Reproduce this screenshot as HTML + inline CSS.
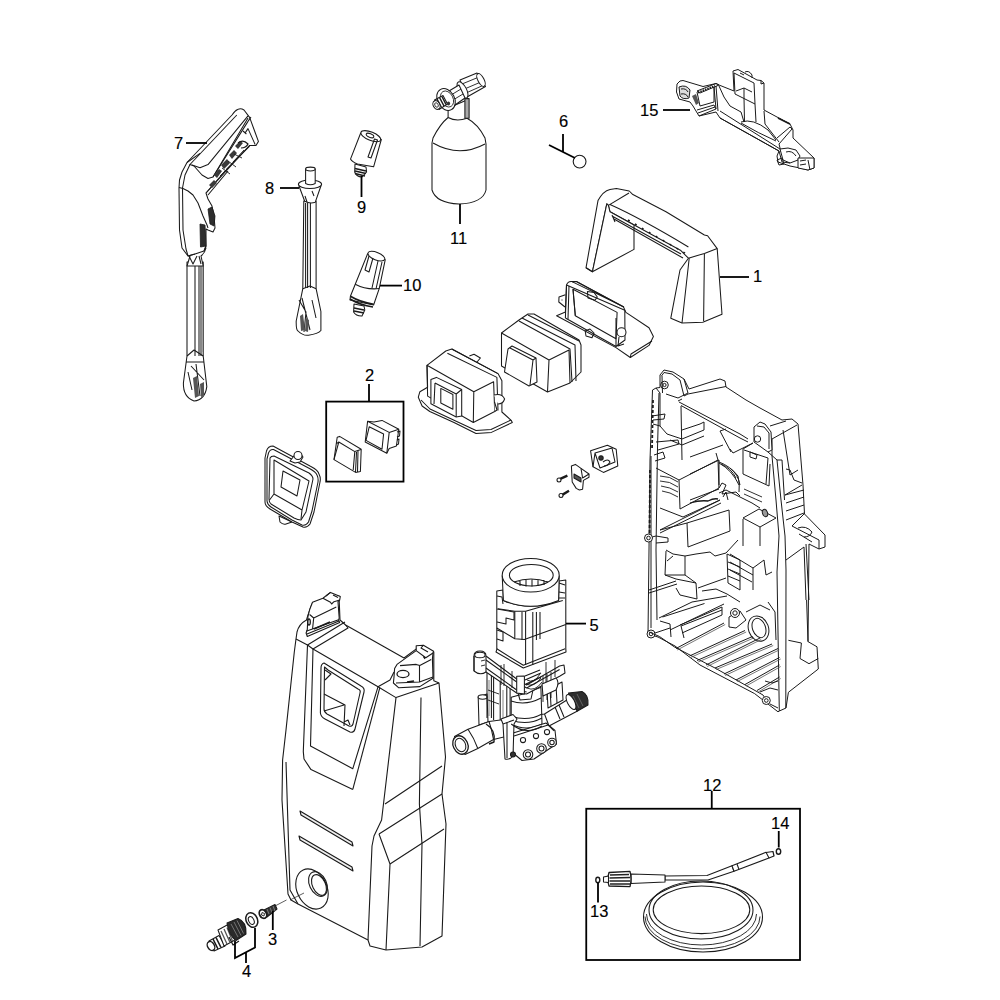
<!DOCTYPE html>
<html><head><meta charset="utf-8">
<style>
html,body{margin:0;padding:0;background:#fff;width:1000px;height:1000px;overflow:hidden}
svg{display:block}
text{font-family:"Liberation Sans",sans-serif;font-size:16.5px;fill:#000;stroke:#000;stroke-width:0.15}
</style></head><body>
<svg width="1000" height="1000" viewBox="0 0 1000 1000">

<g id="cover" stroke="#1a1a1a" stroke-width="1.1" fill="none" stroke-linejoin="round">
<path fill="#fff" d="M306.5 620 Q299 624 297 632 L296 639 L294.3 652 L286 730 L282.6 760 L282 800 L288 894 L291 900 L298 904 L368 940 L370 946 L386 950 L422 947 L442 936 L444 880 L446 824 L442 794 L445.5 757 L439 683 L433.8 680.8 L433.8 652 L419.4 646.6 L404 658 L345.6 625 L340 620 L339 596 L333 595 L312 604 L308 615 Z"/>
<!-- top face -->
<path d="M296 639 L307.5 645 L313 649 L378 686.8 L396 697.6 L439 683"/>
<path d="M307.5 645 L345 622 M313 649 L348 628 L345.6 625"/>
<path d="M378 686.8 L390 680 L394 672"/>
<!-- left face lines -->
<path d="M307.5 645 L303.3 751.6 L304 759 L311 769.6 L352.8 789.4"/>
<path d="M313 649 L310.5 746 L352.8 768.7 L378 686.8"/>
<path d="M352.8 789.4 L379.8 687.7"/>
<path d="M286 762 L290 890 L298 904"/>
<!-- window -->
<path d="M324 663 Q321 664 321 668 L320.4 713 Q321 717 325 719 L350 732 Q354 733 355 729 L364 692 Q365 688 361 686 Z"/>
<path d="M324.5 667 L324 709 Q324 712 327 714 L349 726 Q352 727 353 724 L360 693 Q361 690 358 689 L328 670 Z"/>
<path d="M324 694 L345 705 L344 726 M324 711 L344 705 M325 670 L331 674 L325 680 M344 722 L348 720 L350 725"/>
<!-- right block -->
<path d="M396 697.6 L381.6 820 L374 836 L372 846 L368 940"/>
<path d="M421 697.6 L419.4 804 L422 844 L420 946"/>
<path d="M385 804 L442 766 M379 834 L442 794 M390 864 L444 829"/>
<path d="M379 834 L390 864 L386 950"/>
<!-- slots -->
<path fill="#eee" d="M300 811 L352 842 L353 846 L301 815 Z"/>
<path fill="#eee" d="M299 836 L352 867 L353 871 L300 840 Z"/>
<!-- hole -->
<ellipse cx="312" cy="889" rx="15" ry="21" transform="rotate(-25 312 889)"/>
<ellipse cx="318" cy="884" rx="8.5" ry="13" transform="rotate(-25 318 884)"/>
<ellipse cx="319" cy="885" rx="6.5" ry="11" transform="rotate(-25 319 885)"/>
<path d="M290 900 L304 893" stroke-width="0.7"/>
<!-- left clip -->
<path fill="#fff" d="M306.1 633 L307.3 629.5 L307.9 616.8 L309.6 609.8 L312.5 602.3 L322.9 598.2 L330.5 592.4 L340.3 596.5 L339.7 600 L338 601.7 L339.2 618 L338.6 620.3 L339.7 622.6 L307.3 636.5 Z"/>
<path d="M322.9 598.2 L330.5 602.3 L331.6 604 L334 601.7 L339.7 600 M330.5 592.4 L326 596 M333 595 L338 597.5" />
<path d="M313.7 618 L336.3 607 M309.6 614.5 L313.7 618 L312.5 629.5 M306.1 631.3 L338.6 619.7 M307 634 L339 621"/>
<path d="M314 629 L330 622" stroke-width="1.6"/>
<ellipse cx="309" cy="622" rx="1.3" ry="3" stroke-width="1.3"/>
<!-- right clip -->
<path fill="#fff" d="M397 664.4 L416.2 650.6 L416.2 645.8 L423.4 645.2 L433.6 651.2 L433 653 L432.4 659 L433 677 L433 678.2 L419.8 686.6 L398.8 687.8 L393.4 683 L394 677 L394.6 668.6 Z"/>
<path d="M400 665.6 L416.2 664.4 L419.8 665.6 L431.2 659.6 M419.5 665.6 V682 M396 683 L419.5 682 L433 677"/>
<path d="M416.2 650.6 L425.8 657.8 L433 653 M423.4 656.6 L425 659 M423.4 645.2 L421 648 L428 652"/>
<ellipse cx="403" cy="674" rx="6" ry="3.6" stroke-width="1.3"/>
<path d="M407 682 L414 681" stroke-width="1.6"/>
</g>

<g id="motor" stroke="#1a1a1a" stroke-width="1.05" fill="none" stroke-linejoin="round">
<!-- rods & back parts -->
<path fill="#fff" d="M478.2 697 L487 694 L488 722 L479 725 Z"/>
<ellipse fill="#fff" cx="482.6" cy="697" rx="4.5" ry="2.2"/>
<path d="M487 673 V718 M491.4 673 V718 M493.6 675 V720 M500.2 678 V722 M506.8 686 V718 M510.1 686 V718"/>
<path d="M489 680 V716 M503 690 V720" stroke="#666" stroke-width="0.8"/>
<path fill="#fff" d="M547 690 L562 682 L563 700 L548 708 Z"/>
<path d="M550 688 L551 706 M556 685 L557 703"/>
<!-- pipe -->
<path fill="#fff" d="M454.5 736.5 L468 729.3 L489 721.5 L544.5 714 L568.5 699 L577.5 711 L549 726 L493.5 739.5 L477.8 748.5 L465 754.5 Z"/>
<path d="M468 729.3 Q474 738 477.8 748.5 M489 721.5 Q492 730 493.5 739.5 M544.5 714 L549 726 M555 707 L560 719 M559 705 L564 717"/>
<path d="M486 724 Q496 730 494 742 L489 744" stroke-width="1.4"/>
<ellipse fill="#fff" cx="460.5" cy="745" rx="7.3" ry="9.6" transform="rotate(-25 460.5 745)" stroke-width="1.3"/>
<ellipse cx="460.5" cy="745" rx="5" ry="7" transform="rotate(-25 460.5 745)"/>
<path fill="#2e2e2e" d="M568.5 693 L582 691.5 Q589 695 588 705 L577.5 711 Q570 704 568.5 693 Z"/>
<path d="M573 696 L579 708 M577 694 L583 706" stroke="#777" stroke-width="0.7"/>
<ellipse fill="#fff" cx="571" cy="702" rx="3.5" ry="8.3" transform="rotate(-28 571 702)"/>
<!-- pump cylinder -->
<path fill="#fff" d="M511.2 697.2 L511.2 724 Q526 732 542 724 L540.9 687.3 Q526 694 511.2 697.2 Z"/>
<path d="M511 701 Q526 706 541 698 M511.2 716 Q527 722 542 714 M511.2 720 Q527 726 542 718"/>
<path d="M518 693 L520 700 L531 699 L533 690"/>
<!-- flange plate -->
<path fill="#fff" d="M474 656 Q474 651 480 651 Q486 651 486 656 L516.7 679 L526.6 685 L559.6 666 L564 665 L565 673 L559.6 676.3 L526.6 694 L516.7 693 L486 672 Q480 676 474 671 Z"/>
<path d="M486 660 L516.7 682 L526.6 688 L559.6 669.5 M486 668 L516.7 690 L526.6 692"/>
<ellipse fill="#fff" cx="479.9" cy="655" rx="5.2" ry="2.8"/>
<path d="M474 656 V671 M486 656 V672"/>
<path fill="#fff" d="M516.7 676.3 L524.4 676 L524.4 693.9 L516.7 693 Z"/>
<path d="M501 665 V685 M504 664 V686 M512 671 V688 M546 662 V682 M555 660 V677" stroke-width="0.9"/>
<path d="M526 684 Q534 688 541 678 M527 688 Q535 692 542 682 M527 680 Q534 684 540 674" stroke-width="0.9"/>
<path d="M525 676 L540 670 M525 680 L541 673 M526 684 L541 677" stroke-width="1.3"/>
<path d="M543 676 V702 M547 674 V700 M551 672 V698" stroke-width="0.9"/>
<path fill="#fff" d="M542 684 L556 678 Q560 682 556 690 L543 696 Z"/>
<path d="M488 690 L499 694 M488 700 L499 704" stroke-width="0.9"/>
<path d="M481 661 L485 660 M481 666 L485 665" stroke-width="0.9"/>
<!-- valve block -->
<path fill="#fff" d="M511.5 733.5 L546 723 L555 730.5 L556.5 744 L534 759 L522 760.5 L513 753 Z"/>
<path d="M514 736 L548 725 L554 731"/>
<circle fill="#fff" cx="528" cy="754.5" r="4.8"/><circle cx="528" cy="754.5" r="2.5"/>
<circle fill="#fff" cx="541.5" cy="748.5" r="4.8"/><circle cx="541.5" cy="748.5" r="2.5"/>
<circle fill="#fff" cx="552" cy="742.5" r="4.3"/><circle cx="552" cy="742.5" r="2.2"/>
<circle cx="523" cy="740" r="2.6"/><circle cx="536" cy="736" r="2.6"/><circle cx="547" cy="732" r="2.6"/>
<path fill="#fff" d="M501 719 L513 714.5 L517 719 L514 724 L513 756 Q510 760 505 759 L503 724 Z"/>
<path d="M503 724 L514 720 M507 722 V758"/>
<circle fill="#333" cx="513" cy="754.5" r="2.5"/>
<path d="M511.2 724 Q526 736 542 726" />
<!-- motor body -->
<path fill="#fff" d="M496.8 591 L503 590 L503.4 600.4 Q530 612 558.6 600.4 L559 581 L565.8 580 L565.8 648.4 L566 652 L523.3 668 L496 652 L496.8 649.6 Z"/>
<path d="M496.8 648.8 L523.3 665.3 L565.1 648.8"/>
<path d="M496.8 628 L514.8 638.8 L524.4 639.4 L565.8 624.4"/>
<path d="M498 608.8 L514.8 611.2 L525.6 611.2 L562.8 600.4"/>
<path d="M514.8 611.2 V638.8 M522 612 V640 M525.6 611.2 V665 M532.8 612 V665 M536.4 612 V640 M540 612 V639"/>
<path d="M497 609 L514 612 L514 620 L506 618 L506 624 L497 622 M497 630 L503 632 L503 641 L497 639"/>
<path d="M559 583 L565 585 M559 592 L565 593 M559 598 L565 598"/>
<path d="M497 596 L502 597 L503 604"/>
<path fill="#fff" d="M502.2 575.8 L503.4 600.4 Q530 612 558.6 600.4 L559.2 575.8 Z"/>
<ellipse fill="#fff" cx="530.7" cy="575.2" rx="28.5" ry="16.8"/>
<ellipse cx="531.3" cy="575.2" rx="21.9" ry="10.8"/>
<path d="M514 582 Q531 576 548 582 M520 580 V586 M526 579 V586.5 M532 579 V586.5 M538 579.5 V586 M544 580 V585"/>
</g>

<g id="rear" stroke="#1a1a1a" stroke-width="1.0" fill="none" stroke-linejoin="round">
<path fill="#fff" d="M652.5 390 L656 388 L660 387.5 L660 375 L664 370 L673 372 L684 379 L689 389 L720 379 L725 381 L726 387 L746 400 L760 408 L782 420 L792 419 L798 424 L803 485 L804.5 514 L825 535 L825 547 L819 549 L809 544 L808 641.6 L817 646.8 L818.3 669 L788.4 692.3 L786 708 L779.3 711 L778 711.8 L754.6 693.6 L700 665 L675 646 L658 637 L648 634 L649 550 L650 460 Z"/>
<!-- left edge -->
<path d="M659 393 L657.5 448 L656 550 L657 620 M651 456 L651 628"/>
<path d="M653 400 L652 450 M650 470 L649.5 540" stroke-width="1.8" stroke-dasharray="3 2"/>
<!-- clip left -->
<path d="M661.5 376 L664 372.5 L672 374 L680 380 L684 396 M662 376 L662.5 393 M684 379 L688 393 L678 398 L666 394 M656 388 L660 393"/>
<circle cx="664.5" cy="385" r="3.8"/><circle cx="664.5" cy="385" r="1.6"/>
<!-- top plate -->
<path d="M688 394 L726 386.5 M684 396 L688 394"/>
<path d="M679 402 L740 434 L748 439 M681 405.5 L740 438 L748 442 M678 401 L682 399"/>
<path d="M730 449 L733 453 L753 443"/>
<path d="M660 393 V426 L667 434 L682 439 L704 430 V422 L700 424 L682 430"/>
<path d="M681 406 L682 460 M652 416 L665 414 L664 419 L653 420 M656 442 L678 440 L679 444 L658 450"/>
<path d="M670 440 L682 445 L704 436"/>
<path d="M720 431 L731 452 M720 431 L726 429"/>
<!-- right top box & clip -->
<path d="M770 426 L786 421 M772 439 L797 425 M772 439 L772 456"/>
<path fill="#fff" d="M754 427 L760 422 L765 424 L771 432 L772 450 L768 452 L754 442 Z"/>
<path d="M757 426 L764 427 L769 433 L769 449"/>
<circle cx="757.5" cy="439" r="3.2"/>
<!-- vertical bar -->
<path d="M772 456 L776 500 L779 536 L777 572 L779.3 711 M777 460 L781 500 L785 536 L786 570 L785.8 708 M782 460 L784.5 500"/>
<path d="M768 452 L777 460 L782 460"/>
<!-- upper right interior -->
<path d="M743 449 L743 474 L769 486 L770 464 M743 449 L753 443"/>
<path d="M750 452 L757 455 L756 459 L750 457 Z"/>
<path d="M786 469 L790 470 L794 480 L802 483 M785 495 L802 485"/>
<path d="M785 495 L804 490 M786 503 L804 497 M786 511 L804 505 M786 520 L804 513"/>
<path d="M792 526 L804 514 M792 526 L819 540 L819 549"/>
<path d="M798 528 Q806 525 812 532 Q810 537 804 537 M799 534 L812 542"/>
<path d="M786 560 L804 547 L806 600 M806 544 L809 600 M806.6 600 L808 641.6"/>
<path d="M730 468 Q738 474 740 485 M719 463 Q732 470 739 485"/>
<!-- mid interior -->
<path d="M656 468 L679 480 L718 460 L716 453 M679 480 L680 509 L719 488 L718 460"/>
<path d="M660 476 Q670 476 678 482 M660 481 Q670 481 678 487 M661 486 Q670 487 678 492 M662 491 Q670 492 678 497" stroke-width="0.9"/>
<path d="M660 508 L683 517 L720 500 M660 530 L720 500 M660 533 L721 503"/>
<path d="M687 523 L729 510 L730 531 L688 547 Z M660 530 L687 523"/>
<path d="M719 488 L722 483 L726 485 L722 494 M722 494 L736 492 L740 496"/>
<path d="M743 518 L759 509 L776 518 L760 527 Z M743 519 L743 546 M760 527 L760 546"/>
<ellipse fill="#999" cx="765" cy="513" rx="2.5" ry="3.8" transform="rotate(-20 765 513)"/>
<path d="M730 554 L753 568 L764 560 M730 562 L753 575 M730 570 L752 582"/>
<path d="M753 568 L753 590 M764 560 L766 575 L772 572"/>
<path d="M648 538 L656 536 L668 538 L668 542 L656 543"/>
<circle fill="#fff" cx="648.5" cy="538" r="4"/><circle cx="648.5" cy="538" r="1.8"/>
<!-- extra mid details -->
<path d="M690 457 L723 445 M690 474 L719 460 L719 485 M690 500 L719 489"/>
<path d="M719 462 Q730 466 738 476 Q740 484 739 492 M721 464 Q731 468 736 478"/>
<path d="M744 450 L768 458 L766 484"/>
<path d="M719 493 L726 490 L752 503 L760 508"/>
<path d="M744 489 L762 497 M744 494 L762 502" stroke-width="0.9"/>
<path d="M690 503 Q700 500 708 501 Q714 498 718 499" stroke-width="1.3"/>
<path d="M723 497 L726 492 L728 500"/>

<path d="M653 424 L660 426 M654 455 L663 452 L665 458 L655 461"/>
<path d="M783 430 L790 475 M790 475 L798 470"/>
<!-- lower interior -->
<path d="M666 550 L673 554 L685 556 L696 554 L710 552 L715 556 L726 553 L738 540"/>
<path d="M666 551 L665 575 L685 575 L685 556 M665 575 L676 579 L696 583 L697 599 L680 595 L676 588 M685 575 L696 583"/>
<path d="M673 556 L667 561"/>
<path d="M649 590 L676 581 M649 593 L677 584"/>
<path d="M702 591 L716 589 L727 594 L740 602 M698 588 L726 578"/>
<path d="M727 554 L740 560 L740 590 L728 583 Z M728 562 L740 567 M728 569 L740 574 M728 576 L740 581"/>
<path d="M659 618 L692 602 L727 596"/>
<path d="M660 621 L670 624 L671 637 M680 625 L722 607 M682 633 L722 615 L722 607"/>
<circle fill="#fff" cx="651" cy="634" r="4"/><circle cx="651" cy="634" r="1.8"/>
<path d="M655 633 L670 628"/>
<!-- floor -->
<path d="M649 632 L659.5 636.5 L674.5 647 L715 668 L763 695 L769 704"/>
<path d="M676.0 648.5 L724.0 623.0 M689.5 656.0 L745.0 630.5 M697.0 660.5 L752.5 636.5 M706.0 665.0 L760.0 638.0 M715.0 668.0 L772.0 644.0 M724.0 674.0 L778.0 648.5 M736.0 680.0 L779.5 657.5 M745.0 684.5 L779.5 665.0 M757.0 690.5 L779.5 677.0 "/>
<path d="M677.2 650.0 L725.2 624.5 M690.7 657.5 L746.2 632.0 M698.2 662.0 L753.7 638.0 M707.2 666.5 L761.2 639.5 M716.2 669.5 L773.2 645.5 M725.2 675.5 L779.2 650.0 M737.2 681.5 L780.7 659.0 M746.2 686.0 L780.7 666.5 M758.2 692.0 L780.7 678.5 " stroke-width="0.8" stroke="#555"/>
<path d="M662.5 617 L704.5 603.5 M670 630 L724 604 M681 626 L684 638 M681 626 L722 610"/>
<path d="M765 681 L772 683 L778 681"/>
<circle fill="#fff" cx="766.3" cy="700.5" r="4"/><circle cx="766.3" cy="700.5" r="1.8"/>
<path d="M770 704 L778 708 M760 692 L770 688 L778 690"/>
<!-- ring & bosses -->
<path fill="#fff" d="M729 617 L740 611 L746 620 L736 628 L729 627 Z"/>
<circle fill="#fff" cx="735" cy="613" r="4.5"/><circle cx="735" cy="613" r="2.2"/>
<ellipse cx="758.5" cy="628.6" rx="10" ry="13" transform="rotate(-20 758.5 628.6)"/>
<ellipse cx="759" cy="628" rx="6.5" ry="10" transform="rotate(-20 759 628)"/>
<path d="M746 612 L760 605 L770 610 M768 602 L775 612 L776 640"/>
<path d="M788.4 640.3 L801.4 643 L800 658.5 L809 663.7 L818.3 658.5"/>
</g>

<g id="gun" stroke="#1a1a1a" stroke-width="1.05" fill="none" stroke-linejoin="round">
<!-- shaft -->
<path fill="#fff" d="M187 262 L187 356 L183.4 383 Q183 397 194 401 Q205 400 206.8 386.6 L203.2 356 L203.2 262 Z"/>
<path d="M195 266 V356 M199 266 V356 M201 266 V356"/>
<path fill="#888" d="M200 266 H202.5 V352 H200 Z" stroke="none"/>
<path d="M187 356 L194 350 L203.2 356 M186 362 L204 362 M188 372 L192 390 M196 364 L200 396 M191 366 L204 380"/>
<path fill="#555" stroke="none" d="M193 378 L197 376 L199 396 L195 398 Z M200 384 L204 382 L204 396 L201 397 Z"/>
<path fill="#fff" d="M185 250 Q187 254 190 256 L187 266 L203.2 266 L201 256 Q205 253 206 248 Z"/>
<path d="M189 256 L193 264 L197 256 M199 256 L201 264"/>
<!-- body + bar silhouette -->
<path fill="#fff" d="M187 162.5 L232 115 Q238 106 244 110 L249.6 117.4 L258.4 141.4 L256 145.4 L249.6 145.4 L206 193 L208 199 L212 206 L214 216 L215 228 L213 232 L208 230 L206 229 L206 246 L204 251 L195 254 L188 256 L182 248 L179.5 230 L179 188 L179.5 180 L182 172 Z"/>
<path d="M200 153.4 L187 162.5"/>
<path d="M189.5 165 L236.8 115"/>
<path d="M190 164.5 L194 166 L202 175 L208 178.5 L213 177 L248 118"/>
<path d="M192 165 L200 167.8 L208 164.6 L248 115.8"/>
<path d="M190 164.5 L185 175 L182.5 188 L183 230 L186 249 L188 256"/>
<path d="M179 187.5 L183 188.5 L188 191 L193 195 L198 203 L203 216 L207 225 L208 228"/>
<path d="M206 193 L226 170 M208 195 L228 171 M213 177 L248 121.4 M226.4 169.4 L249.6 146.2"/>
<path d="M248 121.4 L251 117 M244.8 133.4 L248 128.6 L255.2 144.6 M243 131 L246.4 134"/>
<path fill="#3a3a3a" stroke="none" d="M214 175 L219 169 L222 171 L217 178 Z M221 165 L227 159 L230 163 L224 169 Z M229 155 L234 150 L237 153 L232 159 Z M235 146 L240 141 L243 143 L238 149 Z M209 185 L214 180 L217 183 L212 188 Z"/>
<path d="M220 176 L232 164 M224 172 L236 160 M228 168 L240 155 M233 162 L244 150 M222 168 L230 174 M228 161 L236 167 M234 154 L242 158" stroke-width="0.9"/>
<path d="M238 143 Q243 139 248 144 Q246 148 241 148" stroke-width="1.2"/>
<path fill="#2e2e2e" d="M208 209 L212 207 L215 216 L214 226 L210 224 Z" stroke-width="0.8"/>
<path fill="#2e2e2e" d="M200 224 L205 225 L206 246 L200.5 247 Z" stroke-width="0.8"/>
<path d="M204 251 L206 246 M188 256 L195 254"/>
</g>

<g id="lance" stroke="#1a1a1a" stroke-width="1.05" fill="none" stroke-linejoin="round">
<path fill="#fff" d="M303.8 201 L302.8 288.7 L296.2 321 Q296 330 298 331 Q303 336 308.5 335.2 Q318 334 320.9 330.5 L320.9 311.5 L316.1 288.7 L316.1 201 Z"/>
<path d="M305.6 203 V288 M307.6 203 V288 M310.4 203 V288"/>
<path d="M302.8 288.7 L310 286 L316.1 288.7 M299 300 L306 312 L304 332 M302 298 L310 330 M312 300 L316 318"/>
<path fill="#555" stroke="none" d="M300 316 L303 314 L305 330 L301 331 Z M306 318 L309 320 L308 332 L305 331 Z"/>
<path fill="#fff" d="M299 186 L304.7 201.3 Q310 204 315.2 202.3 L320.9 186 Z"/>
<ellipse fill="#fff" cx="310" cy="184.2" rx="11.6" ry="4.3"/>
<path fill="#fff" d="M305.6 169 V183.5 Q310.4 186 315.2 183.5 V169 Z"/>
<ellipse fill="#fff" cx="310.4" cy="169" rx="4.8" ry="1.9"/>
<path d="M305 196 L307 202 M312 191 L314 196"/>
</g>
<g id="noz9" stroke="#1a1a1a" stroke-width="1.05" fill="none" stroke-linejoin="round">
<path fill="#fff" d="M355 164 L354.7 172 Q356 176.6 362 177 L366.6 172 L366 167 Z"/>
<path d="M355 168.5 L366 171 M355 171 L366 173.5 M355 173.5 L365 176" stroke-width="1.4"/>
<path fill="#fff" d="M360.6 133.2 L350.5 159.1 Q352 162 357.5 164 L373.6 166.8 L381.3 139.5 Z"/>
<ellipse fill="#fff" cx="370.8" cy="136.2" rx="10.6" ry="4.2" transform="rotate(22 370.8 136.2)"/>
<ellipse cx="370" cy="135.5" rx="4" ry="1.8" transform="rotate(22 370 135.5)"/>
<path d="M368 157 L374.5 139 L377.5 140 L371 158 Z"/>
</g>
<g id="noz10" stroke="#1a1a1a" stroke-width="1.05" fill="none" stroke-linejoin="round">
<path fill="#fff" d="M354 304 L353.6 312 Q356 316.2 362 316 L364.8 310 L364 306 Z"/>
<path d="M354 308 L364 310 M354 311 L364 313" stroke-width="1.4"/>
<path fill="#fff" d="M367.6 253.8 L350.4 296.2 L350 300 L373.6 305 L379.2 288.6 L385.2 259.8 Z"/>
<path d="M350.4 296.2 Q360 302 373.6 304.2 M350 299 Q360 305 373 307" stroke-width="1.6"/>
<path d="M355.2 284.2 Q366 290 379.2 288.6"/>
<ellipse fill="#fff" cx="376.4" cy="256.2" rx="9" ry="3.8" transform="rotate(22 376.4 256.2)"/>
<path d="M369 256 L365 270 L369 272 L373 258 M378 261 L372 288 M382 262 L376 289"/>
</g>
<g id="bottle" stroke="#1a1a1a" stroke-width="1.05" fill="none" stroke-linejoin="round">
<path fill="#fff" d="M448.1 108 L448.1 117.5 Q440 124 433 138 L432 143 L432 190 Q436 203 459 204 Q483 203 486 190 L486 144 L485 138 Q478 124 467 118.2 L467 100 Z"/>
<path d="M433 143 Q459 158 485 144"/>
<path d="M448.1 117.5 Q456.5 122 467 118.2"/>
<path fill="#aaa" d="M464.9 98.6 H469.1 V118.2 H464.9 Z"/>
<path fill="#fff" d="M460 80 L477 73 L485.5 86.5 L467 97 Z"/>
<path d="M462 84 L479 77 M464.5 89 L482 81.5 M466 93 L484 85" stroke-width="0.9"/>
<ellipse fill="#fff" cx="481" cy="80" rx="3" ry="7" transform="rotate(-28 481 80)"/>
<ellipse fill="#fff" cx="462.5" cy="90" rx="4" ry="9" transform="rotate(-28 462.5 90)"/>
<path fill="#fff" d="M449 91 L459 85 L465 98 L455 105 Z"/>
<path d="M451 95 L461 89 M453 100 L463 94" stroke-width="0.9"/>
<ellipse fill="#fff" cx="446" cy="99.5" rx="8.6" ry="11.5" transform="rotate(-28 446 99.5)"/>
<ellipse cx="447" cy="99" rx="6" ry="8.5" transform="rotate(-28 447 99)" stroke-width="0.8"/>
<path fill="#fff" d="M434.5 100 L443 95.5 L447.5 104 L439 109.5 Z"/>
<path d="M437 99 L441.5 107.5 M439.5 97.5 L444 106 M442 96.5 L446 104.5" stroke-width="1.5"/>
<ellipse fill="#fff" cx="436.5" cy="105" rx="3.3" ry="4.6" transform="rotate(-28 436.5 105)"/>
<ellipse cx="436.5" cy="105" rx="1.6" ry="2.4" transform="rotate(-28 436.5 105)" stroke-width="0.8"/>
<ellipse fill="#333" cx="448.5" cy="103.5" rx="1.6" ry="2" stroke="none"/>
</g>
<g id="ring6" stroke="#1a1a1a" stroke-width="1.1" fill="none">
<circle fill="#fff" cx="579.6" cy="161.6" r="6.4"/>
</g>
<g id="p15" stroke="#1a1a1a" stroke-width="1.0" fill="none" stroke-linejoin="round">
<path fill="#fff" d="M677 84 L680 81 L683 80.5 L703 86.5 L716 83.5 L719 85 L734 91 L733 71 L738 69.5 L757 80 L761 80.5 L764 83 L764 110 L790 124 L793 130 L793 138 L814 158 L814 168 L808 170 L800 168 L790 166 L778 162 L777 156 L779 151 L720 118 L716 112 L699 116 L693 106 L690 102 L679 99 L676.5 92 Z"/>
<path d="M697 91 L716 83.5 L719 85 L700 93 Z"/>
<path d="M698 92.5 L715 86" stroke-width="2" stroke-dasharray="1.5 1"/>
<path d="M697 92 L700 106 L714 102 L714 87"/>
<path d="M697 110 L714 105 L716 109 L699 116 M698 113 L715 107"/>
<path d="M714 87 L716 109 M716 86 L718 111"/>
<path fill="#ddd" d="M679 87 Q686 84 690 90 L689 98 Q683 100 680 96 Z"/>
<path d="M681 89 Q686 88 688 92 M681 94 Q686 93 688 97"/>
<path fill="#555" stroke="none" d="M692 96 L696 94 L699 103 L696 105 Z"/>
<path d="M719 86 L724 97 L730 106 L741 112"/>
<path d="M734 73 L735 94 L755 104 L754 83 Z M740 73 L744 75 M744 88 L744 98 M744 98 L744.5 122 M755 104 L756 122 M736 91 L744 88 L752 92"/>
<path d="M745 72 Q749 70 752 75 L752 78"/>
<path d="M761 80.5 L761 84 L764 83"/>
<path d="M741 112 L744 122"/>
<path d="M720 111 L780 149 M720 118 L779 151"/>
<path d="M764 111 L765 124 L779 142"/>
<path d="M741 122 Q753 118 768 130 L776 140 M741 123 Q758 133 776 141"/>
<path d="M777 138 L790 127 L792 129 L779 144 M779 144 L781 152"/>
<path d="M778 118 L790 124" stroke-width="1.8"/>
<path fill="#fff" d="M780 149 L788 148 L796 150 L800 156 L798 160 L790 163 L783 160 Z"/>
<path d="M786 152 Q792 150 796 156"/>
<path d="M779 151 L782 162 L790 163"/>
<path fill="#fff" d="M798 158 L814 158 L814 168 L808 170 L798 168 Z"/>
<path d="M800 161 L806 160 M800 165 L806 164 M808 160 L810 170"/>
<path d="M777 160 L782 158 L784 164 L779 165 Z"/>
</g>
<g id="handle" stroke="#1a1a1a" stroke-width="1.05" fill="none" stroke-linejoin="round">
<path fill="#fff" d="M586 267.8 L598 200.6 Q603 191 610 189.4 L616.4 188.6 L629.2 191 L632.4 194.2 L666 211.8 L704.4 235 L707.6 235.8 L717.2 248.6 L722 314.2 L702.8 322.2 L682 323 L670.8 318.2 L680 270 L688.4 258.2 L680.4 250.2 L610 211.8 L608.4 205.4 L606.8 203.8 L592.4 271.8 Z"/>
<path fill="#fff" d="M592.4 271.8 L606.8 203.8 L608.4 205.4 L610 211.8 L634 225 L634 249.4 Z"/>
<path d="M586 267.8 L592.4 271.8"/>
<path d="M608.4 205.4 L629 193 M610 204.6 Q640 218 688.4 247"/>
<path d="M612 215 L615 222 M612 216 L681 254 M614 219 L683 258"/>
<path d="M628 220 L690 256" stroke-dasharray="2 6" stroke-width="1.5"/>
<path d="M688.4 258.2 L704.4 253.4 L717.2 248.6 M704.4 253.4 L703.6 321 M689.2 258.2 L682 323"/>
</g>
<g id="switches" stroke="#1a1a1a" stroke-width="1.05" fill="none" stroke-linejoin="round">
<!-- housing C frame -->
<path fill="#fff" d="M556.6 315.7 L565.4 312 L566.5 285 Q568 281 572 281.6 L577 281.6 L623.5 307 L625.9 312.4 L649 327.8 L653.4 336.6 L649 345.4 L630.3 357.5 L616 347.6 Z"/>
<path d="M565.4 318 L616 346.5 M566.5 285 L624.8 310.2 L625 340 L616 346.5 L616 318"/>
<path d="M566.5 285 L565.4 318 M569 286 L568 319 M573 289.3 L617.1 312.4 L616 338.8 L575.3 315.7 Z"/>
<path d="M572 281.6 L622 306 M577 282 L624 307"/>
<path d="M575.3 315.7 L573 289.3"/>
<path d="M565.4 294.8 L559 297 L558.8 302 L565 307 M561.5 300 L562.5 300"/>
<path d="M587.4 291.5 L594 292.5 L597.3 297 L595 300.3 L588 298 Z"/>
<path d="M585.2 331 L590 329 L594 333 L592 337.7 L586 336 Z"/>
<circle fill="#fff" cx="621.5" cy="332.2" r="4.5"/>
<path d="M619 337 L618 346 L624 344"/>
<path d="M630.3 357.5 L631 354 L652 341"/>
<!-- housing B -->
<path fill="#fff" d="M501.5 333 L519 320 L528 314 L534 314 L579 340 L581 345 L581 372 L573 380 L570 383 L547.5 392 L501.5 366 Z"/>
<path d="M501.5 333 L549 360 L547.5 392 M549 360 L569 350 L570 383"/>
<path d="M519 321 L570 349 L572 382 M522 318 L575 345 L576 381 M528 315 L579 341"/>
<path fill="#fff" d="M508 349 L512 346 L536 358 L537 382 L529 386 L504.5 372 Z"/>
<path d="M510 348 L533 360 L530 385 M533 360 L536 358"/>
<!-- housing A -->
<path fill="#fff" d="M427.6 387.3 L419.9 391.7 L418.3 397.2 L422.1 406 L429.8 411.5 L454 422.5 L476 433.5 L491.4 432.4 L512.3 422.5 L511.2 420.3 L501.9 412 L501.9 380.7 L498 373.6 L451.8 349 L445.8 351 L427 365.3 Z"/>
<path d="M421 400 L430 409 L476 430.5 L491 429.5 L511 420"/>
<path d="M427 365.3 L473.8 391.7 L473.3 422.5 L427.6 396.1 Z M473.8 391.7 L493.6 381.8 L494.7 411.5 L473.3 422.5"/>
<path d="M447.4 353.2 L496.9 377.4 L498 410.4 M451.8 349 L498 373.6"/>
<path d="M469.4 356 L474 354.3 L480.4 358 L477 362"/>
<path d="M494 395 Q502 393 504.6 399 Q503 404 498 404 M494.5 402 L497 410 L494.7 411.5" fill="#fff"/>
<path fill="#fff" d="M430.9 379.6 L436.4 377.4 L461.7 389.5 L461.7 415.9 L456.2 417 L430.9 403.8 Z"/>
<path d="M435 383 L456.2 394 L456.2 417 M456.2 394 L461.7 389.5 M435 383 L434 404"/>
<path d="M440.8 388.4 L452.9 394.5 L452.9 409.3 L440.8 403 Z"/>
<!-- switches in box 2 -->
<path fill="#fff" d="M337.2 437.2 L339.6 436.4 L361.2 449.2 L360.4 471.6 L355.6 472.4 L334 459.6 Z"/>
<path d="M336.4 443.6 L338.8 442 L354.8 451.6 L353.2 470 M338.8 442 L334 459.6 M354.8 451.6 L361 449.5 M356.5 452 L355.5 472 M358 451 L357.5 472"/>
<path fill="#fff" d="M374 422 L382 420.4 L398.8 429.2 L396.4 446 L389.2 448.4 L386.8 453.2 L365.2 442 L367.6 421.2 Z"/>
<path d="M367.6 421.2 L389.2 432.4 L386.8 453.2 M389.2 432.4 L398.8 429.2"/>
<path d="M369.2 426.8 L383.6 434 L382 449.2 L366 440.4 Z"/>
<path d="M397 432 L400 431 L399.5 436 L397 437 M397 440 L399 439 L398.5 444 L396.5 445"/>
<!-- bezel -->
<path fill="#fff" d="M279 516 L280 522 Q283 525 286 524 L292 522 Z"/>
<path fill="#fff" d="M266.5 451 Q268 446 273 446 L310 466 Q318 470 319 474 Q321 478 320 482 L314 512 L310 524 Q307 528 303 527 L292 522 L270 509 Q265 506 265 502 L265 458 Z"/>
<path d="M268.5 453 Q270 449 273.5 449.5 L309.5 468.5 Q316 472 317 475 Q318.5 478 318 482 L312 511 L308.5 522 Q306 526 302 525 L292 520 L271 507 Q267.5 505 267 501 L267 459 Z"/>
<path d="M270 458 Q271 456 274 456 L309 473 Q313 476 313 479 L306 512 L301 520 Q298 520 294 518 L271 504 Q269 502 269 499 Z"/>
<path d="M274 460 L309 481 L302 510 L274 494 Z M274 494 L269.5 500 M302 510 L301 519"/>
<path d="M283 471 L300 480 L297 496 L281 487 Z"/>
<path fill="#fff" d="M290 461 L294 456 L300 453 L303 457 L300 462 L295 463 Z"/>
<circle fill="#fff" cx="298" cy="455.5" r="4"/>
<!-- small connector -->
<path fill="#fff" d="M590.6 450.8 L607.4 445.2 L616.2 449.2 L617.8 466 L603.4 472.4 L593 466.8 Z"/>
<path d="M595 453 L612 448 L615 462 L600 468 Z M595 453 L593 466.8"/>
<circle fill="#333" cx="601" cy="458" r="2.2"/>
<path d="M603 462 Q608 458 610 462 Q608 466 604 466"/>
<path fill="#fff" d="M571.4 466 L575.4 464.4 L581 468.4 L589 474 L589 477.2 L583.4 480.4 L582.6 489.2 L579.4 490 L576.2 488.4 L572.2 482 Z"/>
<path d="M574 474 L581 478 L581 482 L574 478 Z" fill="#555"/>
<path d="M581 468.4 L582.6 478 L589 474"/>
<path d="M558.6 479.6 L567.4 475.6 M561 495.6 L569 490.8" stroke-width="2.4"/>
<circle fill="#fff" cx="559" cy="480" r="2"/><circle fill="#fff" cx="561" cy="495.5" r="2"/>
</g>
<g id="small34" stroke="#1a1a1a" stroke-width="1.05" fill="none" stroke-linejoin="round">
<path d="M275 906 L286.5 900" stroke-width="0.7"/>
<path fill="#333" d="M264 910 L275 904.5 L277 909 L267 917 Z"/>
<path d="M267 909 L269 914 M270 907.5 L272 912.5 M273 906 L275 911" stroke="#999" stroke-width="0.7"/>
<ellipse fill="#fff" cx="263" cy="914" rx="3.4" ry="4.6" transform="rotate(-30 263 914)" stroke-width="1.8"/>
<path d="M262 912.5 L264.5 913.5 L264 916 L261.5 915 Z" stroke-width="0.9"/>
<ellipse fill="#fff" cx="251.8" cy="920" rx="5.6" ry="7.6" transform="rotate(-25 251.8 920)" stroke-width="1.5"/>
<ellipse cx="251.3" cy="920.5" rx="2.6" ry="4.2" transform="rotate(-25 251.3 920.5)"/>
<path fill="#fff" d="M209 941 L219 935.5 L225 946 L214 951 Z"/>
<path d="M213 939 L218 949 M216 937.5 L221 947.5" stroke-width="1.6"/>
<ellipse fill="#fff" cx="211" cy="946" rx="3.4" ry="4.8" transform="rotate(-30 211 946)" stroke-width="1.4"/>
<path fill="#fff" d="M218 930 L229 924 L235 940 L224 946 Z"/>
<path d="M221 931 L227 944 M224 929 L230 942.5 M227 927.5 L232.5 941" stroke="#555" stroke-width="1.3"/>
<path fill="#2a2a2a" d="M227 923 L238 918.5 Q247 922 246 934 L236 940.5 Q229 936 227 923 Z"/>
<path d="M231 924 L238 937 M234 922 L241 935.5 M237 920.5 L243.5 933.5" stroke="#888" stroke-width="0.8"/>
<path d="M229 937 L233 945 L239 941" stroke-width="1.2"/>
</g>
<g id="hose" stroke="#1a1a1a" stroke-width="1.05" fill="none" stroke-linejoin="round">
<ellipse cx="701.5" cy="909.8" rx="48.3" ry="23.8"/>
<ellipse cx="701" cy="910" rx="52" ry="29"/>
<ellipse cx="703" cy="917" rx="59.5" ry="35"/>
<path d="M646.5 914 A55 31 0 0 0 756.5 914" stroke-width="0.9"/>
<path d="M645 916.5 A57.5 32.5 0 0 0 760 916.5" stroke-width="0.9"/>
<path fill="#fff" d="M665 876 L707 875.5 L732 865.7 L734 871.3 L708 880 L665 880 Z"/>
<path fill="#fff" d="M732 865.7 L766 852.3 L769 858 L734 871.3 Z"/>
<path d="M737 864 L739 869.5"/>
<path d="M766 852.5 L773 851.5 L774 856 L769 858" stroke-width="1.2"/>
<path fill="#fff" d="M631 874 L665 875 L665 882 L631 883.5 Z"/>
<path fill="#fff" d="M609 872.5 Q607 879 609 886 L630 886.6 Q632 879 630 871.4 Z" stroke-width="1.3"/>
<path d="M610 875 L629 874.5 M609.5 878 L630 877.5 M609.5 881 L630 881 M610 884 L630 884" stroke="#222" stroke-width="1.5"/>
<path fill="#fff" d="M603.5 877 L608.5 876 L608.5 882.5 L603.5 882 Z"/>
<ellipse cx="597.8" cy="880" rx="2" ry="2.7" stroke-width="1.4"/>
<ellipse cx="778.5" cy="851.5" rx="2.2" ry="2.8" stroke-width="1.4"/>
</g>
<g id="labels" transform="translate(0 1)">
<text x="174" y="148">7</text>
<text x="265" y="193">8</text>
<text x="357" y="212">9</text>
<text x="403" y="290">10</text>
<text x="450" y="243">11</text>
<text x="559" y="126">6</text>
<text x="640" y="115">15</text>
<text x="753" y="281">1</text>
<text x="365" y="380">2</text>
<text x="589.5" y="630">5</text>
<text x="268" y="944">3</text>
<text x="242" y="976">4</text>
<text x="703" y="790">12</text>
<text x="771" y="828">14</text>
<text x="590" y="916">13</text>
</g>
<g id="leaders" stroke="#000" stroke-width="1.8" fill="none">
<path d="M186 143H207"/>
<path d="M280 188H299"/>
<path d="M361.5 176V197"/>
<path d="M380 285.6H402"/>
<path d="M460 204V224"/>
<path d="M563 134V152M549 145L575 158"/>
<path d="M663 110H690"/>
<path d="M720 277H749"/>
<path d="M369 384V401.6"/>
<rect x="326.2" y="401.6" width="77.3" height="80"/>
<path d="M566 623.6H586"/>
<path d="M272.8 911V930"/>
<path d="M235 941V958L255 947.5V928M246 952.5V963"/>
<path d="M711.75 791V808.75"/>
<rect x="586.25" y="808.75" width="213.75" height="151.25"/>
<path d="M778.75 831V847.5"/>
<path d="M598 882.5V902.5"/>
</g>
</svg>
</body></html>
